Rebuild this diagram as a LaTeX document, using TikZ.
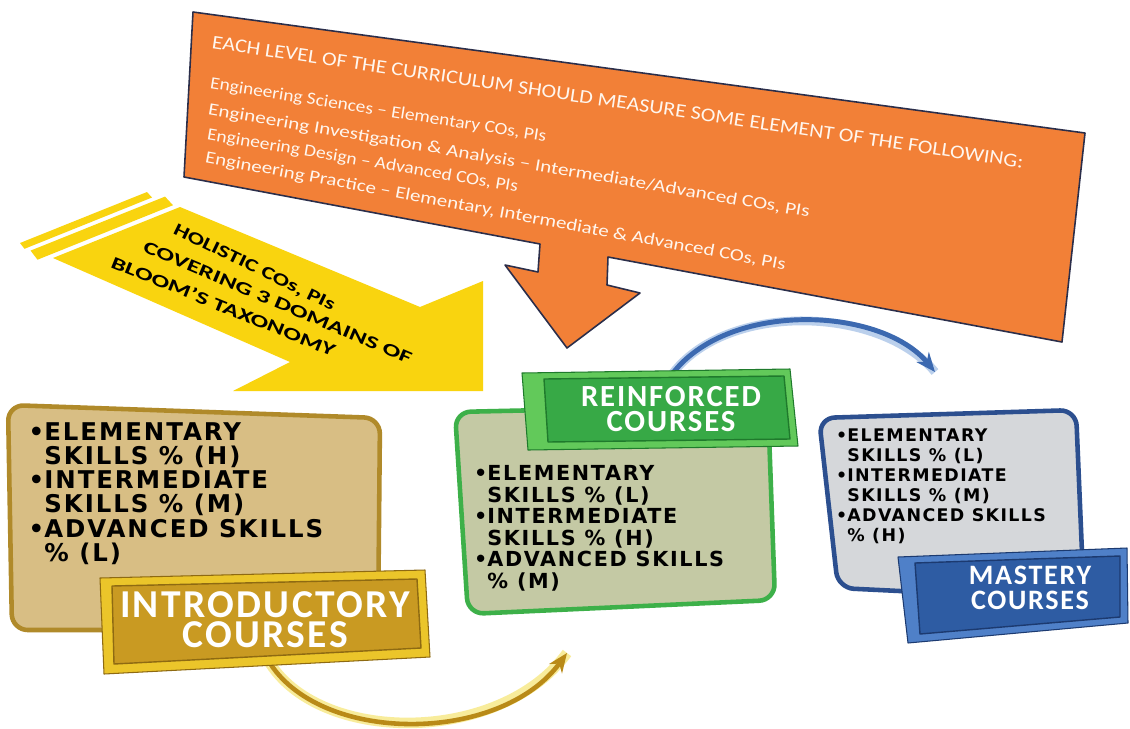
\documentclass[tikz,border=0pt]{standalone}
\usepackage{fontspec}
\usepackage{graphicx}
\setmainfont{Carlito}
\newfontfamily\bulletfont[LetterSpace=8]{DejaVu Sans}
\newfontfamily\labelfont[LetterSpace=6]{Carlito}
\usetikzlibrary{arrows.meta}
\definecolor{orng}{HTML}{F28037}
\definecolor{orngline}{HTML}{2B2E4A}
\definecolor{otxt}{HTML}{FFF6EE}
\definecolor{ylw}{HTML}{F9D40F}
\definecolor{tanfill}{HTML}{D8BE84}
\definecolor{tanline}{HTML}{B08A2A}
\definecolor{goldout}{HTML}{EBC52A}
\definecolor{goldface}{HTML}{C99A22}
\definecolor{goldedge}{HTML}{8E6A12}
\definecolor{grnfill}{HTML}{C4C9A4}
\definecolor{grnline}{HTML}{3DB049}
\definecolor{grnout}{HTML}{62C95A}
\definecolor{grnface}{HTML}{37A946}
\definecolor{grnedge}{HTML}{1F7A2C}
\definecolor{gryfill}{HTML}{D5D7DA}
\definecolor{bluline}{HTML}{2C4F8F}
\definecolor{bluout}{HTML}{4F80C8}
\definecolor{bluface}{HTML}{2E5CA3}
\definecolor{bluedge}{HTML}{1C3A70}
\definecolor{arcgold}{HTML}{B98A17}
\definecolor{arcglow}{HTML}{F4DE4A}
\definecolor{arcblue}{HTML}{3C69B0}
\definecolor{arcbluelt}{HTML}{8EB1E0}
\newcommand{\stretchto}[3]{\resizebox{#1}{\height}{\fontsize{#2}{#2}\selectfont #3}}
\tikzset{
  otext/.style={anchor=west, inner sep=0pt, text=otxt},
  ytext/.style={anchor=west, inner sep=0pt, text=black, font=\bfseries},
  bullets/.style={anchor=north west, inner sep=0pt, align=left, text=black},
  labeltext/.style={inner sep=0pt, align=center, text=white},
  boxshape/.style={line width=2.6pt, rounded corners=9pt, line join=round},
  labelout/.style={line width=0.6pt, line join=round},
  labelface/.style={line width=0.8pt, line join=round},
  goldarc/.style={line width=2.6pt, draw=arcgold, -{Stealth[length=11pt,width=9pt]}},
  bluearc/.style={line width=2.8pt, draw=arcblue, -{Stealth[length=11pt,width=9pt]}}
}
\begin{document}
\begin{tikzpicture}[x=0.02cm,y=-0.02cm]
\useasboundingbox (0,0) rectangle (1130,728);
\fill[white] (0,0) rectangle (1130,728);

% orange banner with arrow
\filldraw[fill=orng, draw=orngline, line width=0.9pt, line join=round]
  (193,12) -- (1085,133) -- (1062,342) -- (608,257) -- (607,285) -- (640,293)
  -- (567,348) -- (505,265) -- (538,272) -- (540,244) -- (184,177) -- cycle;
\node[otext, rotate=-8.4] (ohead) at (212,42) {\stretchto{16.4cm}{11}{EACH LEVEL OF THE CURRICULUM SHOULD MEASURE SOME ELEMENT OF THE FOLLOWING:}};
\node[otext, rotate=-9.0] (oline1) at (210,84) {\stretchto{6.8cm}{9.8}{Engineering Sciences -- Elementary COs, PIs}};
\node[otext, rotate=-9.7] (oline2) at (208,110) {\stretchto{12.2cm}{9.8}{Engineering Investigation \& Analysis -- Intermediate/Advanced COs, PIs}};
\node[otext, rotate=-9.6] (oline3) at (207,135) {\stretchto{6.3cm}{9.8}{Engineering Design -- Advanced COs, PIs}};
\node[otext, rotate=-10.5] (oline4) at (205,158) {\stretchto{11.8cm}{9.8}{Engineering Practice -- Elementary, Intermediate \& Advanced COs, PIs}};

% yellow striped arrow
\fill[ylw] (20,243) -- (147,192) -- (152,197.5) -- (24.5,248.8) -- cycle;
\fill[ylw] (30.6,250.6) -- (165,196.6) -- (173,205.2) -- (37.5,259.7) -- cycle;
\fill[ylw] (53,258) -- (180,207) -- (420,307) -- (483,281) -- (483,391) -- (233,391) -- (290,362) -- cycle;
\node[ytext, rotate=-26] (y1) at (174,229) {\stretchto{3.55cm}{10}{HOLISTIC COs, PIs}};
\node[ytext, rotate=-23] (y2) at (144,246) {\stretchto{5.8cm}{10}{COVERING 3 DOMAINS OF}};
\node[ytext, rotate=-22] (y3) at (112,261) {\stretchto{4.8cm}{10}{BLOOM’S TAXONOMY}};

% boxes
\filldraw[boxshape, fill=tanfill, draw=tanline] (8,405) -- (380,418) -- (378,630) -- (12,630) -- cycle;
\filldraw[boxshape, fill=grnfill, draw=grnline] (455,412) -- (768,405) -- (775,600) -- (468,614) -- cycle;
\filldraw[boxshape, fill=gryfill, draw=bluline] (819,418) -- (1076,410) -- (1084,600) -- (838,588) -- cycle;

\node[bullets, font=\bulletfont\bfseries\fontsize{13.9}{13.8}\selectfont] (introtext) at (44,422)
  {\llap{•}ELEMENTARY\\SKILLS \% (H)\\\llap{•}INTERMEDIATE\\SKILLS \% (M)\\\llap{•}ADVANCED SKILLS\\\% (L)};
\node[bullets, font=\bulletfont\bfseries\fontsize{11.8}{12.3}\selectfont] (reintext) at (487,465)
  {\llap{•}ELEMENTARY\\SKILLS \% (L)\\\llap{•}INTERMEDIATE\\SKILLS \% (H)\\\llap{•}ADVANCED SKILLS\\\% (M)};
\node[bullets, font=\bulletfont\bfseries\fontsize{9.9}{11.4}\selectfont] (masttext) at (847,428)
  {\llap{•}ELEMENTARY\\SKILLS \% (L)\\\llap{•}INTERMEDIATE\\SKILLS \% (M)\\\llap{•}ADVANCED SKILLS\\\% (H)};

% connecting arcs
\coordinate (ga) at (268,660);
\coordinate (gb) at (567,653);
\draw[line width=6pt, draw=arcglow, opacity=0.55] (ga) .. controls (318,745) and (500,745) .. (gb);
\draw[goldarc] (ga) .. controls (318,745) and (500,745) .. (gb);
\coordinate (ba) at (668,380);
\coordinate (bb) at (935,372);
\draw[line width=5pt, draw=arcbluelt, opacity=0.6] (ba) .. controls (720,300) and (880,305) .. (bb);
\draw[bluearc] (ba) .. controls (720,300) and (880,305) .. (bb);

% labels
\filldraw[labelout, fill=goldout, draw=goldedge] (100,578) -- (425,570) -- (430,657) -- (104,674) -- cycle;
\filldraw[labelface, fill=goldface, draw=goldedge] (112,586) -- (417,579) -- (421,648) -- (114,664) -- cycle;
\node[labeltext, font=\labelfont\bfseries\fontsize{22.5}{17}\selectfont] (introlabel) at (265,620) {INTRODUCTORY\\COURSES};

\filldraw[labelout, fill=grnout, draw=grnedge] (522,373) -- (790,369) -- (798,446) -- (528,450) -- cycle;
\filldraw[labelface, fill=grnface, draw=grnedge] (544,379) -- (784,376) -- (790,439) -- (548,442) -- cycle;
\node[labeltext, font=\labelfont\bfseries\fontsize{17.5}{14.2}\selectfont] (reinlabel) at (671,409) {REINFORCED\\COURSES};

\filldraw[labelout, fill=bluout, draw=bluedge] (898,557) -- (1127,548) -- (1128,623) -- (908,643) -- cycle;
\filldraw[labelface, fill=bluface, draw=bluedge] (915,563) -- (1120,556) -- (1120,617) -- (920,634) -- cycle;
\node[labeltext, font=\labelfont\bfseries\fontsize{16}{14.2}\selectfont] (mastlabel) at (1030,588) {MASTERY\\COURSES};
\end{tikzpicture}
\end{document}
